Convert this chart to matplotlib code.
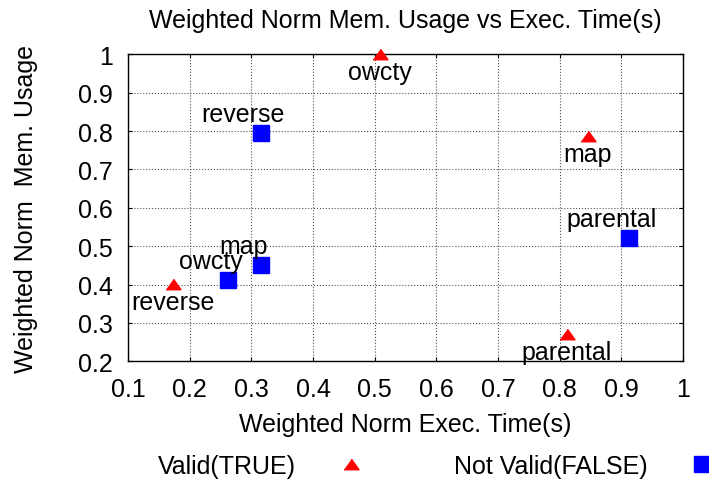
import matplotlib.pyplot as plt

plt.rcParams['font.family'] = ['Liberation Sans', 'DejaVu Sans']

# valid (TRUE) points
valid_names = ["reverse", "owcty", "map", "parental"]
valid_time = [0.173, 0.509, 0.846, 0.812]
valid_mem = [0.401, 1.0, 0.786, 0.271]

# not valid (FALSE) points
invalid_names = ["reverse", "map", "owcty", "parental"]
invalid_time = [0.316, 0.316, 0.263, 0.913]
invalid_mem = [0.794, 0.452, 0.413, 0.521]

xticks = [0.1, 0.2, 0.3, 0.4, 0.5, 0.6, 0.7, 0.8, 0.9, 1.0]
xtick_labels = ["0.1", "0.2", "0.3", "0.4", "0.5", "0.6", "0.7", "0.8", "0.9", "1"]
yticks = [0.2, 0.3, 0.4, 0.5, 0.6, 0.7, 0.8, 0.9, 1.0]
ytick_labels = ["0.2", "0.3", "0.4", "0.5", "0.6", "0.7", "0.8", "0.9", "1"]

fs = 18
tri = [(-1, -0.7), (1, -0.7), (0, 0.7)]

fig = plt.figure(figsize=(7.09, 4.85), dpi=100)
ax = fig.add_axes([0.1805, 0.253, 0.7828, 0.633])

ax.plot(valid_time, valid_mem, linestyle='none', marker=tri, ms=10.8,
        color='#ff0000', mec='#ff0000', clip_on=False, label='Valid(TRUE)', zorder=3)
ax.plot(invalid_time, invalid_mem, linestyle='none', marker='s', ms=11.5,
        color='#0000ff', mec='#0000ff', clip_on=False, label='Not Valid(FALSE)', zorder=3)

for n, x, y in zip(valid_names, valid_time, valid_mem):
    ax.annotate(n, (x, y), xytext=(0, -18), textcoords='offset pixels',
                ha='center', va='center', fontsize=fs, zorder=4)
for n, x, y in zip(invalid_names, invalid_time, invalid_mem):
    ax.annotate(n, (x, y), xytext=(-18, 19), textcoords='offset pixels',
                ha='center', va='center', fontsize=fs, zorder=4)

ax.set_xlim(0.1, 1.0)
ax.set_ylim(0.2, 1.0)
ax.set_xticks(xticks)
ax.set_xticklabels(xtick_labels)
ax.set_yticks(yticks)
ax.set_yticklabels(ytick_labels)
ax.tick_params(direction='in', length=3.2, width=0.8, top=True, right=True,
               labelsize=fs, pad=11)
ax.grid(True, linestyle=':', color='#555555', linewidth=0.8)
for s in ax.spines.values():
    s.set_linewidth(1.0)

ax.set_title("Weighted Norm Mem. Usage vs Exec. Time(s)", fontsize=fs, pad=20)
ax.set_xlabel("Weighted Norm Exec. Time(s)", fontsize=fs, va='top')
ax.xaxis.set_label_coords(0.5, -0.165)
ax.set_ylabel("Weighted Norm  Mem. Usage", fontsize=fs)
ax.yaxis.set_label_coords(-0.163, 0.5)

fig.legend(loc='center left', bbox_to_anchor=(158 / 709, 0.037), ncol=2,
           markerfirst=False, frameon=False, fontsize=fs, borderpad=0,
           borderaxespad=0, handlelength=2, handletextpad=1.2,
           columnspacing=3.1, numpoints=1)

plt.savefig("out.png")
